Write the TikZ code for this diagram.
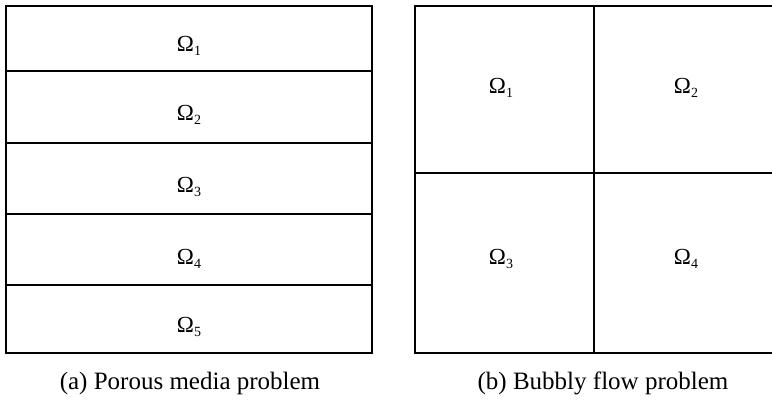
\documentclass[tikz,border=0pt]{standalone}
\usepackage{fontspec}
\setmainfont{Liberation Serif}
\newcommand{\subdom}[1]{Ω\raisebox{-0.4ex}{\fontsize{14}{16}\selectfont #1}}
\begin{document}
\begin{tikzpicture}[x=1pt,y=-1pt,font=\fontsize{23}{28}\selectfont]
			\useasboundingbox (0,0) rectangle (772,400);
			%\draw[line width=0.2pt] (0,0) grid (772,400);
			% (a) layers
			\draw[line width=2.2pt] (6,6) rectangle (372,353);
			\foreach \y in {71,143,214,285}
				\draw[line width=2.2pt] (6,\y)--(372,\y);
			\foreach \i/\y in {1/46,2/115,3/187,4/259,5/327}
				\node (a\i) at (189,\y) {\subdom{\i}};
			\node[font=\fontsize{25}{30}\selectfont] (capa) at (190,383) {(a) Porous media problem};
			% (b) quadrants
			\draw[line width=1.3pt] (415,6) rectangle (775,353);
			\draw[line width=1.3pt] (415,173)--(775,173);
			\draw[line width=1.3pt] (594,6)--(594,353);
			\node (b1) at (501,88) {\subdom{1}};
			\node (b2) at (686,88) {\subdom{2}};
			\node (b3) at (501,259) {\subdom{3}};
			\node (b4) at (686,259) {\subdom{4}};
			\node[font=\fontsize{25}{30}\selectfont] (capb) at (603,383) {(b) Bubbly flow problem};
	\end{tikzpicture}
\end{document}
